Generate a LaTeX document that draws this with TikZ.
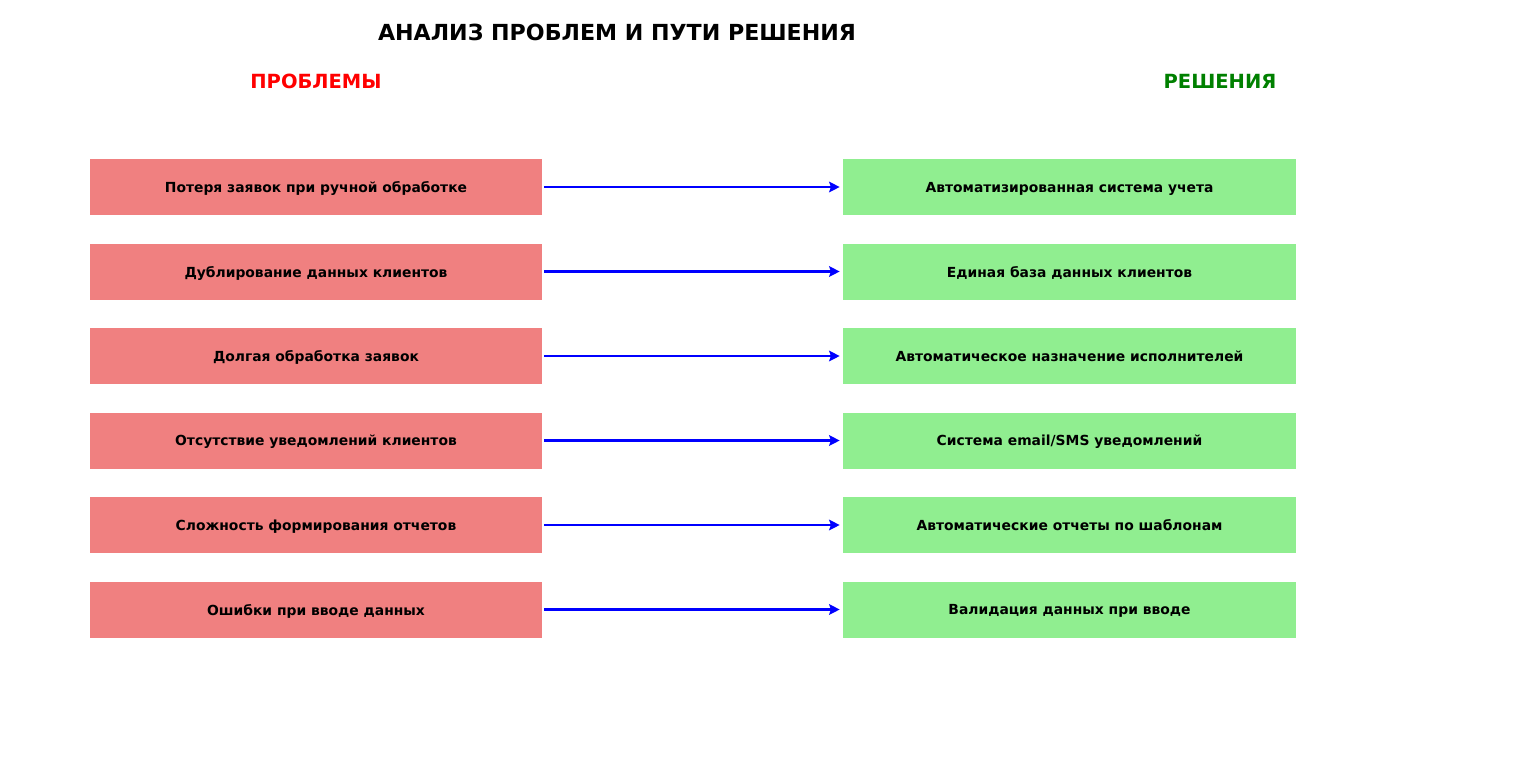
\documentclass[tikz,border=0pt]{standalone}
\usepackage{fontspec}
\setmainfont{DejaVu Sans}
\usepackage{xcolor}
\usetikzlibrary{arrows.meta}

\definecolor{probred}{HTML}{F08080}
\definecolor{solgreen}{HTML}{90EE90}
\definecolor{headgreen}{HTML}{008000}

\tikzset{
    problem/.style={fill=probred, minimum width=9.04cm, minimum height=1.12cm,
        inner sep=0pt, text depth=0pt, font=\fontsize{7.9}{9.6}\selectfont\bfseries},
    solution/.style={fill=solgreen, minimum width=9.06cm, minimum height=1.12cm,
        inner sep=0pt, text depth=0pt, font=\fontsize{7.9}{9.6}\selectfont\bfseries},
    link/.style={->, blue, line width=1.6pt, shorten <=0.04cm, shorten >=0.06cm}
}

\begin{document}
\begin{tikzpicture}[>={Stealth[length=6pt,width=6pt,inset=1pt]}, x=0.02cm, y=-0.02cm]
    \useasboundingbox (0,0) rectangle (1536,762);

    % titles
    \node[font=\fontsize{12.6}{14}\selectfont\bfseries] (title) at (617,32) {АНАЛИЗ ПРОБЛЕМ И ПУТИ РЕШЕНИЯ};
    \node[font=\fontsize{11.1}{13}\selectfont\bfseries, text=red] (probhead) at (316,81) {ПРОБЛЕМЫ};
    \node[font=\fontsize{11.1}{13}\selectfont\bfseries, text=headgreen] (solhead) at (1220,81) {РЕШЕНИЯ};

    % problems
    \node[problem] (p1) at (316,187) {Потеря заявок при ручной обработке};
    \node[problem] (p2) at (316,271.5) {Дублирование данных клиентов};
    \node[problem] (p3) at (316,356) {Долгая обработка заявок};
    \node[problem] (p4) at (316,440.5) {Отсутствие уведомлений клиентов};
    \node[problem] (p5) at (316,525) {Сложность формирования отчетов};
    \node[problem] (p6) at (316,609.5) {Ошибки при вводе данных};

    % solutions
    \node[solution] (s1) at (1069.5,187) {Автоматизированная система учета};
    \node[solution] (s2) at (1069.5,271.5) {Единая база данных клиентов};
    \node[solution] (s3) at (1069.5,356) {Автоматическое назначение исполнителей};
    \node[solution] (s4) at (1069.5,440.5) {Система email/SMS уведомлений};
    \node[solution] (s5) at (1069.5,525) {Автоматические отчеты по шаблонам};
    \node[solution] (s6) at (1069.5,609.5) {Валидация данных при вводе};

    \foreach \i in {1,...,6}
        \draw[link] (p\i.east) -- (s\i.west);
\end{tikzpicture}
\end{document}
